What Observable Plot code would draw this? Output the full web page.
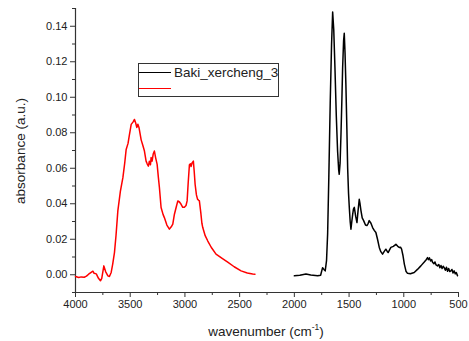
<!DOCTYPE html>
<html>
<head>
<meta charset="utf-8">
<script src="https://cdn.jsdelivr.net/npm/d3@7"></script>
<script src="https://cdn.jsdelivr.net/npm/@observablehq/plot@0.6"></script>
<style>
  html, body { margin: 0; padding: 0; background: #fff; }
  #wrap { position: relative; width: 469px; height: 341px; font-family: "Liberation Sans", Arial, sans-serif; color: #222; }
  #wrap svg { position: absolute; left: 0; top: 0; }
  .ylab { position: absolute; left: 20px; top: 151px; transform: translate(-50%, -50%) rotate(-90deg); font-size: 13.5px; white-space: nowrap; }
  .xlab { position: absolute; left: 266px; top: 330px; transform: translate(-50%, -50%); font-size: 13.5px; white-space: nowrap; }
  .xlab sup { font-size: 8.5px; vertical-align: 6px; }
  .legend { position: absolute; left: 138px; top: 63px; width: 141px; height: 34px; border: 1px solid #333; box-sizing: border-box; font-size: 13.5px; }
  .legend .row { position: absolute; left: 0; height: 15px; display: flex; align-items: center; }
  .legend .sw { width: 32px; height: 0; border-top: 1.5px solid; margin-right: 3px; }
</style>
</head>
<body>
<div id="wrap"></div>
<script>
const seriesName = "Baki_xercheng_3";

const redWavenumber = [4000,3970,3948,3920,3900,3880,3857,3841,3830,3810,3790,3772,3760,3741,3725,3704,3690,3674,3660,3644,3630,3613,3590,3567,3550,3537,3520,3507,3491,3475,3461,3450,3440,3430,3420,3400,3385,3370,3355,3345,3334,3325,3315,3309,3300,3290,3279,3268,3254,3243,3233,3218,3200,3188,3165,3142,3125,3111,3096,3080,3065,3050,3035,3020,3005,2990,2980,2970,2959,2950,2944,2935,2923,2915,2907,2895,2885,2875,2868,2855,2845,2837,2815,2791,2760,2716,2660,2609,2550,2487,2430,2381,2360];
const redAbsorbance = [-0.001,-0.0015,-0.0012,-0.0014,-0.0008,0.0003,0.0013,0.002,0.0008,0.0005,-0.002,-0.0034,-0.002,0.005,0.0018,-0.0006,-0.001,0.0013,0.006,0.0125,0.022,0.036,0.047,0.0547,0.063,0.0706,0.074,0.079,0.0847,0.086,0.0875,0.0855,0.083,0.0848,0.083,0.076,0.073,0.0697,0.064,0.0625,0.0612,0.064,0.062,0.066,0.064,0.068,0.0697,0.066,0.0622,0.055,0.049,0.0379,0.034,0.0322,0.028,0.0257,0.027,0.0285,0.0341,0.038,0.0416,0.041,0.0397,0.038,0.038,0.039,0.0416,0.052,0.062,0.0625,0.061,0.063,0.064,0.058,0.051,0.045,0.0426,0.042,0.0416,0.035,0.029,0.0266,0.022,0.019,0.0155,0.0116,0.0092,0.0071,0.0045,0.0022,0.001,0.0004,0.0003];

const blackWavenumber = [2000,1950,1894,1850,1787,1760,1742,1730,1718,1706,1696,1685,1672,1660,1650,1640,1629,1617,1605,1595,1590,1582,1574,1566,1559,1550,1544,1537,1529,1520,1513,1505,1498,1490,1483,1475,1467,1460,1452,1440,1428,1418,1407,1400,1391,1380,1367,1350,1337,1325,1316,1300,1285,1270,1255,1240,1224,1210,1194,1180,1164,1150,1143,1130,1118,1095,1072,1055,1042,1030,1020,1008,995,980,966,940,905,875,844,815,795,783,775,765,755,745,737,725,715,705,692,680,670,660,650,640,631,620,610,600,590,580,570,560,550,540,530,520,509];
const blackAbsorbance = [-0.0006,-0.0003,0.0004,-0.0002,-0.0006,-0.0003,0.004,0.003,0.0022,0.008,0.023,0.055,0.0978,0.13,0.148,0.138,0.1165,0.09,0.0697,0.059,0.0566,0.063,0.079,0.098,0.1165,0.132,0.136,0.125,0.107,0.082,0.0602,0.046,0.038,0.03,0.0257,0.03,0.034,0.037,0.038,0.033,0.0294,0.036,0.0425,0.04,0.036,0.032,0.0305,0.028,0.0277,0.029,0.0305,0.029,0.0266,0.025,0.0238,0.02,0.0154,0.013,0.0116,0.013,0.0144,0.013,0.0125,0.014,0.0154,0.016,0.0172,0.016,0.0154,0.0155,0.0144,0.011,0.006,0.002,0.0008,0.0006,0.0013,0.003,0.005,0.007,0.0085,0.0097,0.0085,0.0095,0.0078,0.0085,0.007,0.0062,0.0072,0.0055,0.005,0.0058,0.004,0.0052,0.0035,0.0048,0.004,0.0025,0.0042,0.002,0.0035,0.0018,0.0022,0.003,0.001,0.0022,0.0005,0.0012,-0.0006];

const xTicks = [4000,3500,3000,2500,2000,1500,1000,500];
const xMinorTicks = [3750,3250,2750,2250,1750,1250,750];
const yTicks = [0,0.02,0.04,0.06,0.08,0.10,0.12,0.14];
const yMinorTicks = [-0.01,0.01,0.03,0.05,0.07,0.09,0.11,0.13,0.15];
const xDomain = [4000, 500];
const yDomain = [-0.01, 0.15];

const red = redWavenumber.map((w, i) => ({w, a: redAbsorbance[i]}));
const black = blackWavenumber.map((w, i) => ({w, a: blackAbsorbance[i]}));

const chart = Plot.plot({
  width: 469,
  height: 341,
  marginLeft: 75,
  marginRight: 11,
  marginTop: 8,
  marginBottom: 49,
  style: {fontFamily: "'Liberation Sans', Arial, sans-serif", fontSize: "11px", color: "#222", background: "transparent"},
  x: {domain: xDomain},
  y: {domain: yDomain},
  marks: [
    Plot.axisX({ticks: xTicks, tickSize: 5, tickPadding: 3, tickFormat: d => String(d), label: null, stroke: "#333"}),
    Plot.axisX({ticks: xMinorTicks, tickSize: 3, tickFormat: null, text: null, label: null, stroke: "#333"}),
    Plot.axisY({ticks: yTicks, tickSize: 5, tickPadding: 3, tickFormat: d3.format(".2f"), label: null, stroke: "#333"}),
    Plot.axisY({ticks: yMinorTicks, tickSize: 3, tickFormat: null, text: null, label: null, stroke: "#333"}),
    Plot.ruleY([yDomain[0]], {stroke: "#333", strokeWidth: 1.2}),
    Plot.ruleX([xDomain[0]], {stroke: "#333", strokeWidth: 1.2}),
    Plot.line(red, {x: "w", y: "a", stroke: "#ff0000", strokeWidth: 1.5}),
    Plot.line(black, {x: "w", y: "a", stroke: "#000", strokeWidth: 1.5})
  ]
});

const wrap = document.getElementById("wrap");
wrap.appendChild(chart);

const yl = document.createElement("div");
yl.className = "ylab";
yl.textContent = "absorbance (a.u.)";
wrap.appendChild(yl);

const xl = document.createElement("div");
xl.className = "xlab";
xl.innerHTML = "wavenumber (cm<sup>-1</sup>)";
wrap.appendChild(xl);

const lg = document.createElement("div");
lg.className = "legend";
lg.innerHTML = `<div class="row" style="top:1px"><span class="sw" style="border-color:#000"></span><span></span></div>
<div class="row" style="top:17px"><span class="sw" style="border-color:#ff0000"></span></div>`;
lg.querySelector(".row span:nth-child(2)").textContent = seriesName;
wrap.appendChild(lg);
</script>
</body>
</html>
